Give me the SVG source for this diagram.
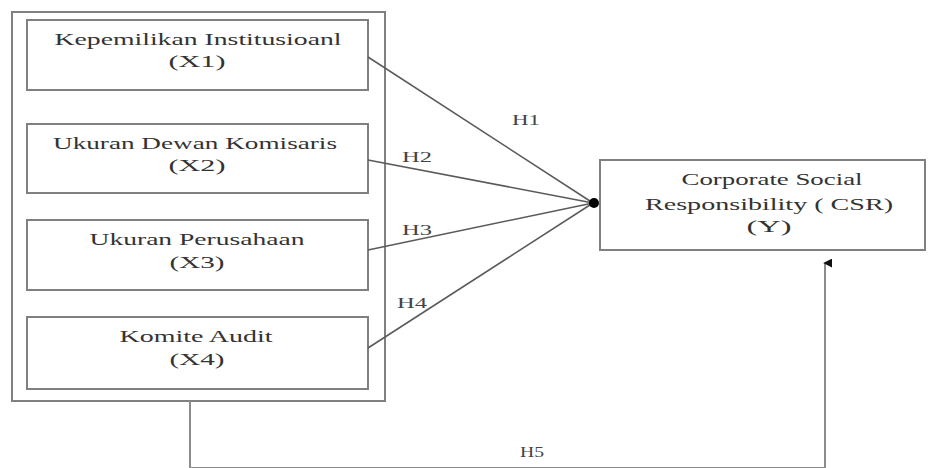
<svg xmlns="http://www.w3.org/2000/svg" width="928" height="468" viewBox="0 0 928 468">
  <defs>
    <style>
      .box { fill: #ffffff; stroke: #808080; stroke-width: 2; }
      .lbl { font-family: "Liberation Serif", "Times New Roman", serif; font-size: 17px; fill: #333333; text-anchor: middle; }
      .h { font-family: "Liberation Serif", "Times New Roman", serif; font-size: 15px; fill: #444444; text-anchor: middle; }
      .conn { stroke: #5a5a5a; stroke-width: 1.5; fill: none; }
      .conn2 { stroke: #8c8c8c; stroke-width: 2; fill: none; }
    </style>
    <marker id="arrow" viewBox="0 0 10 10" refX="5" refY="2" markerWidth="9" markerHeight="9" markerUnits="userSpaceOnUse" orient="auto-start-reverse">
      <path d="M0,10 L5,0 L10,10 Z" fill="#111111"/>
    </marker>
  </defs>

  <rect width="928" height="468" fill="#ffffff"/>

  <g id="group-X">
    <rect class="box" x="12" y="12" width="373" height="389"/>
  </g>

  <g id="node-X1">
    <rect class="box" x="27" y="20" width="341" height="70"/>
    <text class="lbl" x="198" y="45" textLength="287" lengthAdjust="spacingAndGlyphs">Kepemilikan Institusioanl</text>
    <text class="lbl" x="197" y="67" textLength="57" lengthAdjust="spacingAndGlyphs">(X1)</text>
  </g>

  <g id="node-X2">
    <rect class="box" x="27" y="124" width="341" height="69"/>
    <text class="lbl" x="195" y="149" textLength="284" lengthAdjust="spacingAndGlyphs">Ukuran Dewan Komisaris</text>
    <text class="lbl" x="197" y="171" textLength="57" lengthAdjust="spacingAndGlyphs">(X2)</text>
  </g>

  <g id="node-X3">
    <rect class="box" x="27" y="220" width="341" height="70"/>
    <text class="lbl" x="197" y="245" textLength="215" lengthAdjust="spacingAndGlyphs">Ukuran Perusahaan</text>
    <text class="lbl" x="197" y="268" textLength="55" lengthAdjust="spacingAndGlyphs">(X3)</text>
  </g>

  <g id="node-X4">
    <rect class="box" x="27" y="317" width="341" height="72"/>
    <text class="lbl" x="196" y="342" textLength="153" lengthAdjust="spacingAndGlyphs">Komite Audit</text>
    <text class="lbl" x="197" y="365" textLength="55" lengthAdjust="spacingAndGlyphs">(X4)</text>
  </g>

  <g id="node-Y">
    <rect class="box" x="600" y="160" width="325" height="90"/>
    <text class="lbl" x="772" y="185" textLength="181" lengthAdjust="spacingAndGlyphs">Corporate Social</text>
    <text class="lbl" x="769" y="210" textLength="248" lengthAdjust="spacingAndGlyphs">Responsibility ( CSR)</text>
    <text class="lbl" x="769" y="232" textLength="45" lengthAdjust="spacingAndGlyphs">(Y)</text>
  </g>

  <g id="connectors">
    <line class="conn" x1="368" y1="57" x2="593" y2="203"/>
    <line class="conn" x1="368" y1="160" x2="593" y2="203"/>
    <line class="conn" x1="368" y1="250" x2="593" y2="203"/>
    <line class="conn" x1="368" y1="348" x2="593" y2="203"/>
    <circle cx="594" cy="203" r="5" fill="#000000"/>
    <polyline class="conn2" points="190,401 190,468 825,468 825,263" marker-end="url(#arrow)"/>
    <text class="h" x="526" y="125" textLength="28" lengthAdjust="spacingAndGlyphs">H1</text>
    <text class="h" x="417" y="162" textLength="30" lengthAdjust="spacingAndGlyphs">H2</text>
    <text class="h" x="417" y="235" textLength="30" lengthAdjust="spacingAndGlyphs">H3</text>
    <text class="h" x="412" y="308" textLength="30" lengthAdjust="spacingAndGlyphs">H4</text>
    <text class="h" x="532" y="457" textLength="24" lengthAdjust="spacingAndGlyphs" font-size="13">H5</text>
  </g>
</svg>
